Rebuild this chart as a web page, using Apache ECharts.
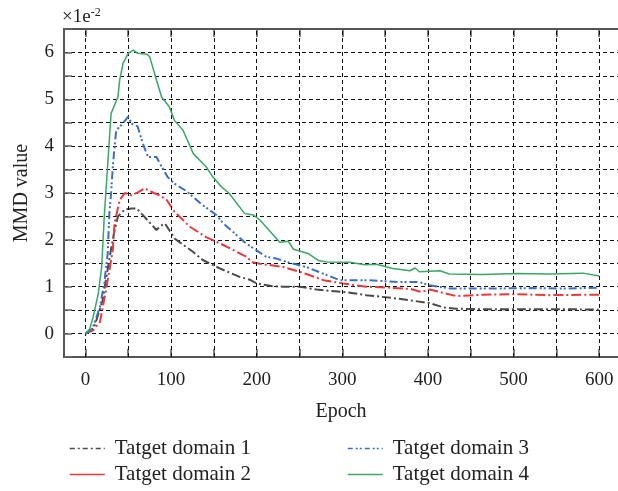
<!DOCTYPE html>
<html>
<head>
<meta charset="utf-8">
<script src="https://cdn.jsdelivr.net/npm/echarts@6/dist/echarts.min.js"></script>
<style>
  html, body { margin: 0; padding: 0; background: #fff; }
  #chart { width: 618px; height: 491px; }
</style>
</head>
<body>
<div id="chart"></div>
<script>
// MMD value (×1e-2) recorded against training epoch for four target domains
const seriesNames = ['Tatget domain 1', 'Tatget domain 2', 'Tatget domain 3', 'Tatget domain 4'];

const epochs1 = [0, 10, 20, 28, 34, 38, 46, 54, 60, 69, 83, 88, 93, 104, 126, 137, 157, 180, 192, 200, 219, 231, 250, 270, 305, 328, 363, 383, 402, 418, 433, 464, 522, 560, 600];
const domain1 = [0, 0.12, 0.7, 1.6, 2.2, 2.5, 2.65, 2.67, 2.67, 2.49, 2.21, 2.3, 2.35, 2.03, 1.74, 1.57, 1.39, 1.21, 1.15, 1.07, 1.01, 1.0, 1.0, 0.94, 0.88, 0.82, 0.75, 0.7, 0.65, 0.56, 0.53, 0.52, 0.52, 0.52, 0.51];

const epochs2 = [0, 9, 17, 24, 28, 32, 34, 40, 46, 54, 62, 69, 80, 87, 95, 104, 106, 122, 141, 161, 188, 195, 204, 231, 250, 258, 278, 301, 328, 355, 380, 392, 402, 422, 433, 464, 503, 542, 600];
const domain2 = [0, 0.07, 0.25, 0.92, 1.35, 1.78, 2.35, 2.85, 3.0, 2.95, 3.02, 3.1, 3.0, 2.95, 2.85, 2.6, 2.56, 2.28, 2.06, 1.89, 1.64, 1.52, 1.49, 1.42, 1.32, 1.27, 1.14, 1.07, 1.0, 0.98, 0.95, 0.89, 0.94, 0.85, 0.8, 0.83, 0.84, 0.82, 0.83];

const epochs3 = [0, 8, 12, 17, 22, 26, 28, 30, 32, 34, 36, 42, 50, 54, 61, 67, 73, 83, 87, 96, 104, 118, 137, 153, 161, 188, 211, 223, 235, 258, 297, 328, 367, 390, 402, 426, 464, 520, 560, 600];
const domain3 = [0, 0.1, 0.3, 0.57, 1.07, 1.71, 2.56, 3.0, 3.56, 3.98, 4.34, 4.45, 4.63, 4.48, 4.42, 4.06, 3.77, 3.77, 3.63, 3.34, 3.2, 3.04, 2.74, 2.53, 2.35, 1.92, 1.64, 1.6, 1.53, 1.42, 1.14, 1.14, 1.1, 1.1, 1.03, 0.96, 0.96, 0.97, 0.96, 0.98];

const epochs4 = [0, 5, 9, 15, 19, 22, 30, 38, 40, 44, 46, 50, 56, 61, 72, 75, 83, 89, 98, 104, 114, 126, 141, 149, 159, 168, 186, 196, 204, 227, 237, 243, 260, 272, 282, 309, 326, 340, 359, 379, 385, 390, 414, 425, 464, 503, 542, 581, 600];
const domain4 = [0, 0.1, 0.35, 0.85, 1.42, 2.49, 4.7, 5.05, 5.41, 5.77, 5.8, 5.98, 6.05, 5.98, 5.96, 5.91, 5.41, 5.05, 4.84, 4.55, 4.34, 3.84, 3.56, 3.34, 3.13, 2.99, 2.56, 2.53, 2.42, 1.95, 1.97, 1.8, 1.71, 1.56, 1.53, 1.52, 1.47, 1.48, 1.39, 1.34, 1.4, 1.32, 1.34, 1.27, 1.26, 1.28, 1.27, 1.29, 1.23];

const xTickLabels = [0, 100, 200, 300, 400, 500, 600];
const xGridValues = [0, 50, 100, 150, 200, 250, 300, 350, 400, 450, 500, 550, 600];
const yTickLabels = [0, 1, 2, 3, 4, 5, 6];

const colors = ['#4a4a4a', '#e8393c', '#3a6fc2', '#3aa865'];
const dashes = [[9, 3, 2, 3], [10, 3, 2, 3], [8, 3, 2, 2, 2, 3], null];
const legendDashes = [[5, 3, 2, 3], 'solid', [5, 3, 2, 2, 2, 3], 'solid'];
const FONT = '"Liberation Serif", "Times New Roman", serif';

function pairs(xs, ys) { return xs.map((x, i) => [x, ys[i]]); }
const allEpochs = [epochs1, epochs2, epochs3, epochs4];
const allValues = [domain1, domain2, domain3, domain4];

const chart = echarts.init(document.getElementById('chart'), null, { renderer: 'canvas' });

const series = seriesNames.map((name, i) => ({
  name: name,
  type: 'line',
  xAxisIndex: 0,
  yAxisIndex: 0,
  data: pairs(allEpochs[i], allValues[i]),
  showSymbol: false,
  symbol: 'none',
  animation: false,
  z: 3 + i,
  lineStyle: {
    color: colors[i],
    width: i === 3 ? 1.5 : 2,
    type: dashes[i] || 'solid'
  },
  itemStyle: { color: colors[i] }
}));

// vertical dashed grid lines every 50 epochs
series.push({
  name: 'xgrid',
  type: 'line',
  data: [],
  silent: true,
  z: 1,
  markLine: {
    silent: true,
    symbol: ['none', 'none'],
    label: { show: false },
    animation: false,
    lineStyle: { color: '#111', width: 1, type: [4, 3] },
    data: xGridValues.map(v => ({ xAxis: v }))
  }
});

// one legend block per entry, laid out in two columns
const legendPos = [[64, 433], [64, 459], [342, 433], [342, 459]];
const legends = seriesNames.map((name, i) => ({
  left: legendPos[i][0], top: legendPos[i][1],
  itemWidth: 35, itemHeight: 14,
  textStyle: { fontFamily: FONT, fontSize: 21, color: '#222', padding: [0, 0, 0, 5] },
  itemStyle: { opacity: 0 },
  data: [{
    name: name,
    itemStyle: { opacity: 0 },
    lineStyle: { color: colors[i], width: 1.5, type: legendDashes[i] }
  }]
}));

chart.setOption({
  backgroundColor: '#ffffff',
  animation: false,
  grid: { left: 64, right: 0, top: 29, bottom: 134, containLabel: false },
  xAxis: [{
    type: 'value',
    min: -25, max: 622,
    name: 'Epoch', nameLocation: 'middle', nameGap: 45,
    nameTextStyle: { fontFamily: FONT, fontSize: 20, color: '#222' },
    axisLine: { show: true, onZero: false, lineStyle: { color: '#555', width: 2 } },
    axisTick: { show: true, inside: true, length: 8, customValues: xGridValues, lineStyle: { color: '#555', width: 1.5 } },
    axisLabel: {
      fontFamily: FONT, fontSize: 19, color: '#222', margin: 14,
      customValues: xTickLabels
    },
    splitLine: { show: false }
  }, {
    type: 'value', position: 'top',
    min: -25, max: 622,
    axisLine: { show: true, onZero: false, lineStyle: { color: '#555', width: 2 } },
    axisTick: { show: true, inside: true, length: 8, customValues: xGridValues, lineStyle: { color: '#555', width: 1.5 } },
    axisLabel: { show: false },
    splitLine: { show: false }
  }],
  yAxis: [{
    type: 'value',
    min: -0.5, max: 6.5, interval: 0.5,
    name: 'MMD value', nameLocation: 'middle', nameGap: 32, nameRotate: 90,
    nameTextStyle: { fontFamily: FONT, fontSize: 20, color: '#222' },
    axisLine: { show: true, onZero: false, lineStyle: { color: '#555', width: 2 } },
    axisTick: { show: true, inside: true, length: 8, lineStyle: { color: '#666', width: 1.5 } },
    axisLabel: {
      fontFamily: FONT, fontSize: 19, color: '#222', margin: 10,
      formatter: v => (yTickLabels.indexOf(v) >= 0 ? String(v) : '')
    },
    splitLine: { show: true, lineStyle: { color: '#111', width: 1, type: [4, 3] } }
  }],
  legend: legends,
  graphic: [{
    type: 'text', left: 62, top: 7,
    style: {
      text: '{b|×1e}{s|-2}',
      rich: {
        b: { fontFamily: FONT, fontSize: 19, fill: '#222', verticalAlign: 'bottom' },
        s: { fontFamily: FONT, fontSize: 12, fill: '#222', verticalAlign: 'top', padding: [0, 0, 8, 0] }
      }
    }
  }],
  series: series
});
</script>
</body>
</html>
